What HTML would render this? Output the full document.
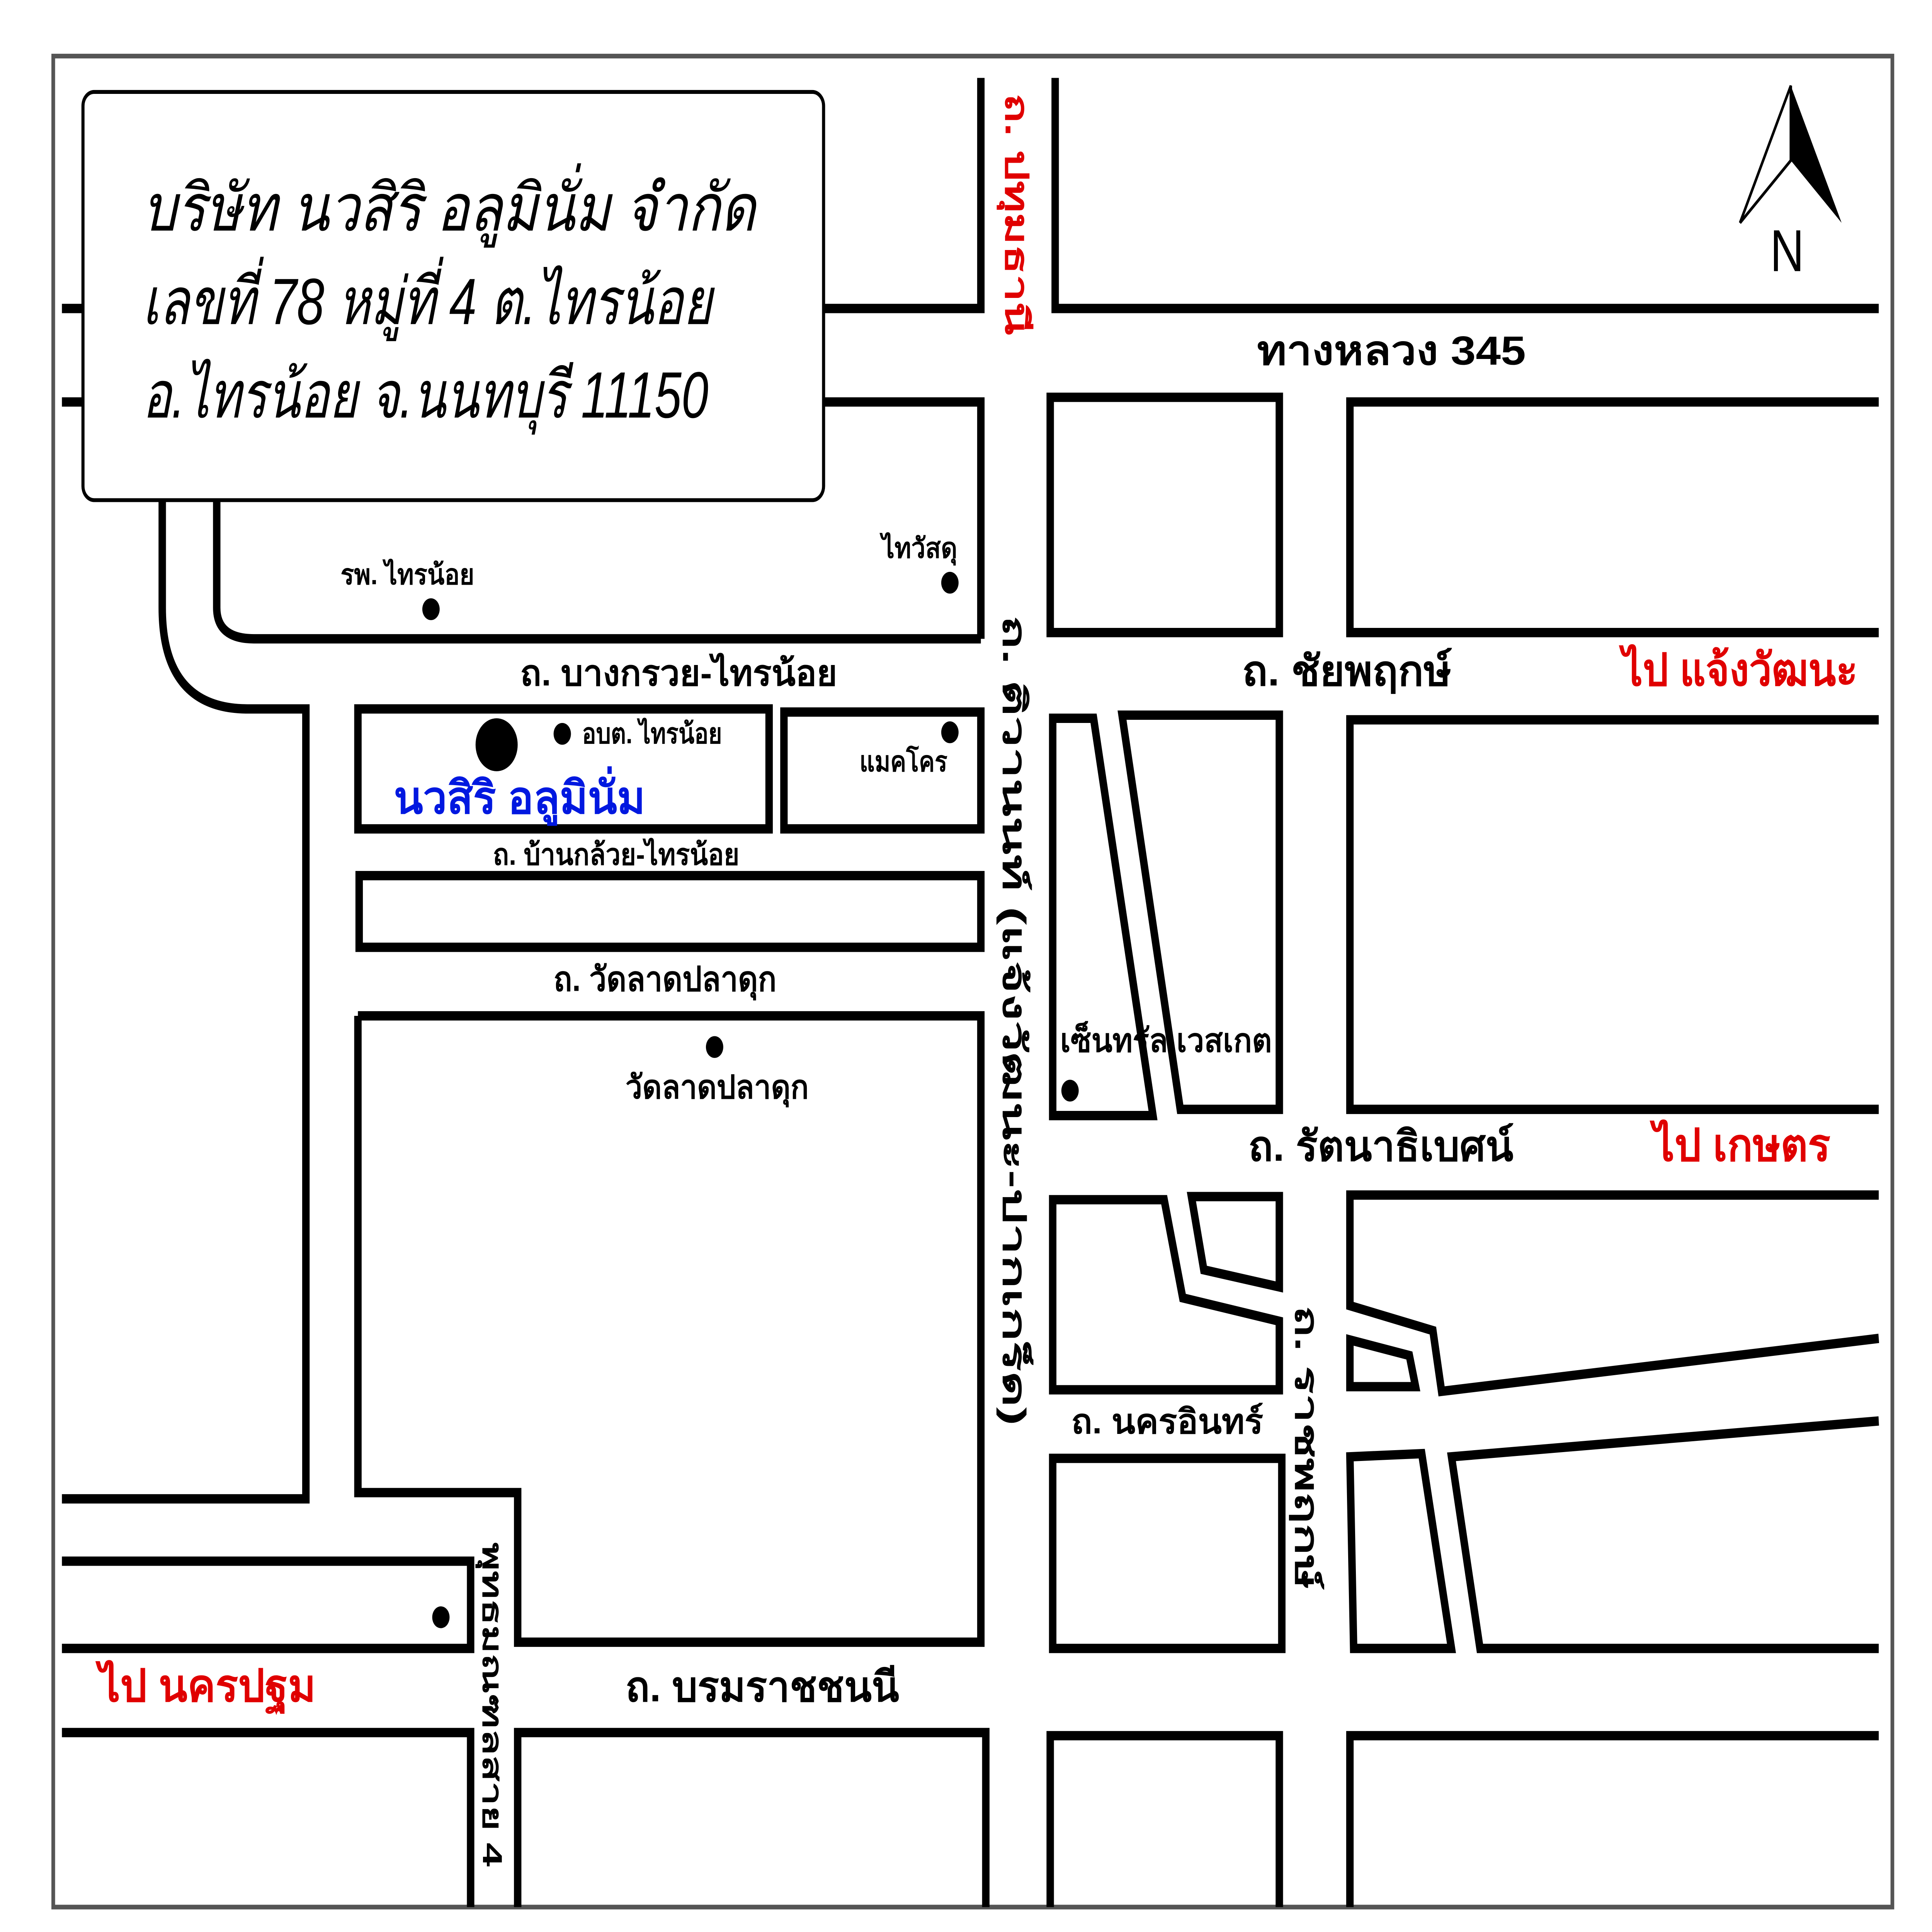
<!DOCTYPE html>
<html><head><meta charset="utf-8">
<style>
html,body{margin:0;padding:0;background:#fff;width:100%;height:100%;overflow:hidden;}
svg{display:block;width:100%;height:100%;}
text{font-family:"Liberation Sans","DejaVu Sans","Noto Sans CJK SC",sans-serif;}
</style></head>
<body>
<svg viewBox="0 0 1560 1240" preserveAspectRatio="none" xmlns="http://www.w3.org/2000/svg">
<rect width="1560" height="1240" fill="#fff"/>
<rect x="43" y="36" width="1485" height="1188" fill="none" stroke="#555" stroke-width="3"/>
<g fill="none" stroke="#000" stroke-width="6" stroke-linejoin="miter" stroke-linecap="butt">
<line x1="50" y1="198" x2="68" y2="198"/>
<line x1="50" y1="258" x2="68" y2="258"/>
<polyline points="665,198 792,198 792,50"/>
<polyline points="665,258 792,258 792,410"/>
<polyline points="852,50 852,198 1517,198"/>
<path d="M131,321 V390 Q131,455 200,455 H247 V962 H50"/>
<path d="M175,321 V390 Q175,410 205,410 H792"/>
<rect x="289" y="455" width="332" height="77"/>
<rect x="633" y="457" width="159" height="75"/>
<rect x="290" y="562" width="502" height="46"/>
<polyline points="289,652 792,652 792,1054 418,1054 418,958 289,958 289,652"/>
<polyline points="50,1002 380,1002 380,1058 50,1058"/>
<polyline points="50,1112 380,1112 380,1224"/>
<polyline points="418,1224 418,1112 796,1112 796,1224"/>
<rect x="848" y="255" width="185" height="151"/>
<polyline points="1517,258 1090,258 1090,406 1517,406"/>
<polygon points="850,461 883,461 931,716 850,716"/>
<polygon points="906,459 1033,459 1033,712 953,712"/>
<polyline points="1517,462 1090,462 1090,712 1517,712"/>
<polygon points="850,770 940,770 955,833 1033,848 1033,892 850,892"/>
<polygon points="962,768 1033,768 1033,826 972,815"/>
<polyline points="1517,767 1090,767 1090,838 1157,854 1164,893 1517,859"/>
<polygon points="1090,860 1138,870 1143,890 1090,890"/>
<polygon points="1090,935 1148,933 1172,1058 1093,1058"/>
<polyline points="1517,912 1172,935 1195,1058 1517,1058"/>
<rect x="850" y="936" width="185" height="122"/>
<polyline points="848,1224 848,1114 1033,1114 1033,1224"/>
<polyline points="1090,1224 1090,1114 1517,1114"/>
</g>
<rect x="67" y="59" width="598" height="262" rx="9" fill="#fff" stroke="#000" stroke-width="2.5"/>
<g font-style="italic" font-size="42" fill="#000">
<text x="115" y="148" textLength="495" lengthAdjust="spacingAndGlyphs">บริษัท นวสิริ อลูมินั่ม จำกัด</text>
<text x="115" y="208" textLength="460" lengthAdjust="spacingAndGlyphs">เลขที่ 78 หมู่ที่ 4 ต.ไทรน้อย</text>
<text x="115" y="268" textLength="457" lengthAdjust="spacingAndGlyphs">อ.ไทรน้อย จ.นนทบุรี 11150</text>
</g>
<polygon points="1446,55 1405,143 1446,103" fill="none" stroke="#000" stroke-width="2"/>
<polygon points="1446,55 1487,143 1446,103" fill="#000"/>
<text x="1443" y="174" font-size="38" text-anchor="middle">N</text>
<g fill="#000">
<circle cx="348" cy="391" r="7"/><circle cx="767" cy="374" r="7"/>
<circle cx="401" cy="478" r="17"/><circle cx="454" cy="471" r="7"/>
<circle cx="767" cy="470" r="7"/><circle cx="577" cy="672" r="7"/>
<circle cx="864" cy="700" r="7"/><circle cx="356" cy="1038" r="7"/>
</g>
<g font-weight="bold" fill="#000">
<text x="1015" y="234" font-size="26" textLength="217" lengthAdjust="spacingAndGlyphs">ทางหลวง 345</text>
<text x="275" y="375" font-size="18" textLength="108" lengthAdjust="spacingAndGlyphs">รพ. ไทรน้อย</text>
<text x="712" y="358" font-size="18" textLength="61" lengthAdjust="spacingAndGlyphs">ไทวัสดุ</text>
<text x="420" y="440" font-size="23" textLength="256" lengthAdjust="spacingAndGlyphs">ถ. บางกรวย-ไทรน้อย</text>
<text x="470" y="477" font-size="18" textLength="113" lengthAdjust="spacingAndGlyphs">อบต. ไทรน้อย</text>
<text x="694" y="495" font-size="18" textLength="71" lengthAdjust="spacingAndGlyphs">แมคโคร</text>
<text x="398" y="555" font-size="19" textLength="199" lengthAdjust="spacingAndGlyphs">ถ. บ้านกล้วย-ไทรน้อย</text>
<text x="447" y="636" font-size="22" textLength="180" lengthAdjust="spacingAndGlyphs">ถ. วัดลาดปลาดุก</text>
<text x="505" y="705" font-size="21" textLength="148" lengthAdjust="spacingAndGlyphs">วัดลาดปลาดุก</text>
<text x="856" y="675" font-size="21" textLength="171" lengthAdjust="spacingAndGlyphs">เซ็นทรัล เวสเกต</text>
<text x="1003" y="440" font-size="27" textLength="169" lengthAdjust="spacingAndGlyphs">ถ. ชัยพฤกษ์</text>
<text x="1008" y="745" font-size="27" textLength="214" lengthAdjust="spacingAndGlyphs">ถ. รัตนาธิเบศน์</text>
<text x="865" y="920" font-size="22" textLength="155" lengthAdjust="spacingAndGlyphs">ถ. นครอินทร์</text>
<text x="505" y="1092" font-size="27" textLength="221" lengthAdjust="spacingAndGlyphs">ถ. บรมราชชนนี</text>
<text transform="translate(810,395) rotate(90)" font-size="26" textLength="520" lengthAdjust="spacingAndGlyphs">ถ. ติวานนท์ (แจ้งวัฒนะ-ปากเกร็ด)</text>
<text transform="translate(1046,838) rotate(90)" font-size="26" textLength="182" lengthAdjust="spacingAndGlyphs">ถ. ราชพฤกษ์</text>
<text transform="translate(390,990) rotate(90)" font-size="22" textLength="208" lengthAdjust="spacingAndGlyphs">พุทธมณฑลสาย 4</text>
</g>
<g font-weight="bold" fill="#e00000">
<text transform="translate(812,60) rotate(90)" font-size="26" textLength="155" lengthAdjust="spacingAndGlyphs">ถ. ปทุมธานี</text>
<text x="1310" y="440" font-size="29" textLength="190" lengthAdjust="spacingAndGlyphs">ไป แจ้งวัฒนะ</text>
<text x="1335" y="745" font-size="29" textLength="143" lengthAdjust="spacingAndGlyphs">ไป เกษตร</text>
<text x="80" y="1092" font-size="29" textLength="175" lengthAdjust="spacingAndGlyphs">ไป นครปฐม</text>
</g>
<text x="318" y="522" font-size="29" font-weight="bold" fill="#0018e0" textLength="203" lengthAdjust="spacingAndGlyphs">นวสิริ อลูมินั่ม</text>
</svg>
</body></html>
